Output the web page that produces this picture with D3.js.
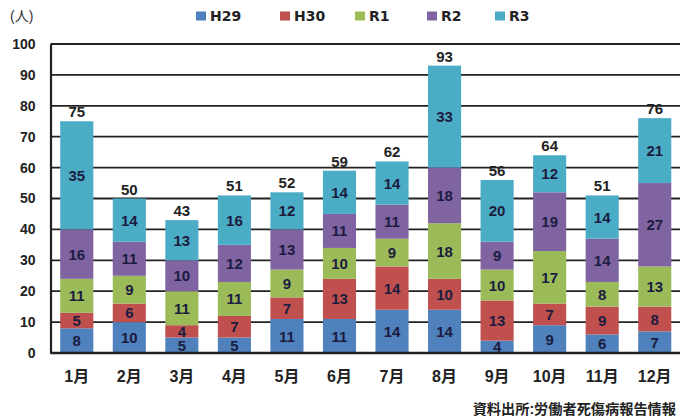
<!DOCTYPE html>
<html><head><meta charset="utf-8">
<script src="https://cdn.jsdelivr.net/npm/d3@7"></script>
<style>
body{margin:0;background:#fff;}
text{font-family:"Liberation Sans","Noto Sans CJK JP",sans-serif;font-weight:bold;}
</style></head>
<body><svg id="c" width="687" height="416"></svg>
<script>
const months = ["1月","2月","3月","4月","5月","6月","7月","8月","9月","10月","11月","12月"];
const seriesNames = ["H29","H30","R1","R2","R3"];
const H29 = [8,10,5,5,11,11,14,14,4,9,6,7];
const H30 = [5,6,4,7,7,13,14,10,13,7,9,8];
const R1  = [11,9,11,11,9,10,9,18,10,17,8,13];
const R2  = [16,11,10,12,13,11,11,18,9,19,14,27];
const R3  = [35,14,13,16,12,14,14,33,20,12,14,21];
const yTicks = [0,10,20,30,40,50,60,70,80,90,100];
const colors = ["#4F81BD","#C0504D","#9BBB59","#8064A2","#4BACC6"];
const source = "資料出所:労働者死傷病報告情報";
const unit = "(人)";

const seriesVals = [H29,H30,R1,R2,R3];
const rows = months.map((m,i)=>{const o={month:m};seriesNames.forEach((s,j)=>o[s]=seriesVals[j][i]);return o;});
const stacked = d3.stack().keys(seriesNames)(rows);

const svg = d3.select("#c");
const x = d3.scaleBand().domain(months).range([50.5,681]).paddingInner(0.37).paddingOuter(0.185);
const y = d3.scaleLinear().domain([0,100]).range([353,44]);

// gridlines
svg.append("g").selectAll("line").data(yTicks.filter(t=>t>0)).join("line")
  .attr("x1",50.5).attr("x2",680).attr("y1",d=>y(d)).attr("y2",d=>y(d))
  .attr("stroke","#222").attr("stroke-width",1.8);

// y axis
const ya = svg.append("g").attr("transform","translate(50.5,0)")
  .call(d3.axisLeft(y).tickValues(yTicks).tickSize(0).tickPadding(15));
ya.select(".domain").attr("stroke","#222").attr("stroke-width",2.2);
ya.selectAll("text").attr("font-size",14).attr("fill","#222")
  .style("font-family",'"Liberation Sans",sans-serif').style("font-weight","bold");

// bars
const g = svg.append("g");
stacked.forEach((layer,j)=>{
  g.append("g").selectAll("rect").data(layer).join("rect")
    .attr("x",d=>x(d.data.month)).attr("width",x.bandwidth())
    .attr("y",d=>y(d[1])).attr("height",d=>y(d[0])-y(d[1]))
    .attr("fill",colors[j]);
  g.append("g").selectAll("text").data(layer).join("text")
    .attr("x",d=>x(d.data.month)+x.bandwidth()/2)
    .attr("y",d=>(y(d[0])+y(d[1]))/2+5.5)
    .attr("text-anchor","middle").attr("font-size",15).attr("fill","#1c1c40")
    .text(d=>d[1]-d[0]);
});
// totals
const topLayer = stacked[stacked.length-1];
g.append("g").selectAll("text").data(topLayer).join("text")
  .attr("x",d=>x(d.data.month)+x.bandwidth()/2)
  .attr("y",d=>y(d[1])-4)
  .attr("text-anchor","middle").attr("font-size",15).attr("fill","#222")
  .text(d=>d[1]);

// x axis
const xa = svg.append("g").attr("transform","translate(0,353)")
  .call(d3.axisBottom(x).tickSize(0).tickPadding(18));
xa.select(".domain").remove();
svg.append("line").attr("x1",50.5).attr("x2",680).attr("y1",353).attr("y2",353)
  .attr("stroke","#222").attr("stroke-width",2.4);
xa.selectAll("text").attr("font-size",16).attr("fill","#222")
  .style("font-family",'"Liberation Sans","Noto Sans CJK JP",sans-serif').style("font-weight","bold");

// unit
svg.append("text").attr("x",10).attr("y",21).attr("font-size",14).attr("fill","#333")
  .style("font-weight","normal").text(unit);

// legend
const legX = [196,280,355,427,495];
const leg = svg.append("g");
seriesNames.forEach((s,j)=>{
  leg.append("rect").attr("x",legX[j]).attr("y",11.5).attr("width",10).attr("height",9).attr("fill",colors[j]);
  leg.append("text").attr("x",legX[j]+14).attr("y",21).attr("font-size",14).attr("fill","#222")
    .style("font-family",'"DejaVu Sans",sans-serif').text(s);
});

// source
svg.append("text").attr("x",676).attr("y",414).attr("text-anchor","end")
  .attr("font-size",14.2).attr("fill","#222").text(source);
</script></body></html>
